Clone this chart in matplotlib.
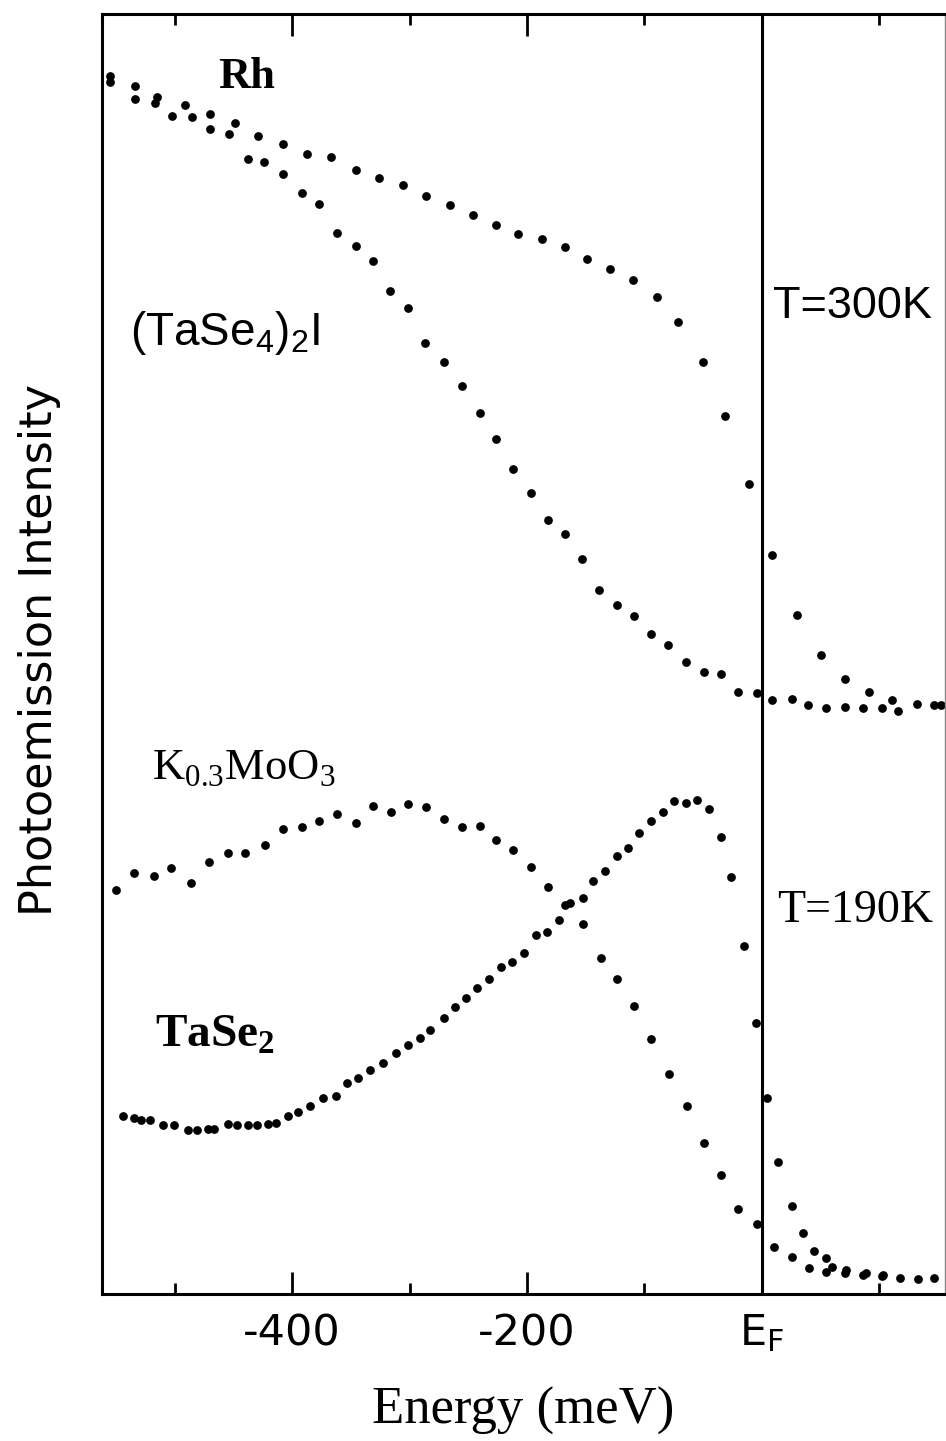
import numpy as np
import matplotlib
matplotlib.use("Agg")
from matplotlib import pyplot as plt
from matplotlib.ticker import FixedLocator

# energies in meV relative to E_F, intensity in arbitrary units (0..128)
rh_e = [-555, -534, -515, -491, -470, -449, -429, -408, -387, -367, -346, -326, -306, -286,
        -266, -246, -226, -208, -187, -168, -149, -129, -110, -89, -71, -50, -31, -11,
        9, 30, 50, 71, 91, 111, 132, 153]
rh_i = [121.8, 120.8, 119.7, 118.9, 118.0, 117.1, 115.8, 115.0, 114.0, 113.7, 112.4, 111.6,
        110.9, 109.8, 108.9, 107.9, 106.9, 106.0, 105.5, 104.7, 103.5, 102.5, 101.4, 99.7,
        97.2, 93.2, 87.8, 81.0, 73.9, 67.9, 63.9, 61.5, 60.2, 59.4, 59.0, 58.9]

tase4_e = [-555, -534, -517, -502, -485, -470, -454, -438, -424, -408, -392, -377, -362, -346,
           -331, -317, -301, -287, -271, -255, -240, -226, -212, -197, -182, -168, -153, -139,
           -123, -109, -94, -80, -65, -49, -35, -20, -4, 9, 26, 39, 55, 71, 86, 102, 116, 147]
tase4_i = [121.2, 119.5, 119.1, 117.8, 117.7, 116.5, 116.0, 113.5, 113.2, 112.0, 110.1, 109.0,
           106.1, 104.8, 103.3, 100.3, 98.6, 95.1, 93.2, 90.8, 88.1, 85.5, 82.5, 80.1, 77.4,
           76.0, 73.5, 70.4, 68.9, 67.8, 66.0, 64.9, 63.2, 62.2, 62.0, 60.2, 60.1, 59.4, 59.5,
           58.9, 58.6, 58.7, 58.6, 58.6, 58.3, 58.9]

kmo_e = [-550, -535, -518, -503, -486, -471, -455, -440, -423, -408, -392, -377, -362, -346,
         -331, -316, -301, -286, -271, -255, -240, -226, -212, -197, -182, -168, -152, -137,
         -123, -109, -94, -79, -64, -49, -35, -20, -4, 10, 26, 40, 55, 71, 86, 102, 118, 133, 147]
kmo_i = [40.4, 42.1, 41.8, 42.6, 41.1, 43.2, 44.1, 44.1, 44.9, 46.5, 46.7, 47.3, 48.0, 47.1,
         48.8, 48.2, 49.0, 48.7, 47.5, 46.7, 46.8, 45.4, 44.4, 42.7, 40.7, 38.9, 37.0, 33.6,
         31.5, 28.8, 25.5, 22.0, 18.8, 15.1, 11.9, 8.5, 7.0, 4.7, 3.7, 2.6, 2.2, 2.1, 1.9,
         1.8, 1.6, 1.5, 1.6]

tase2_e = [-544, -535, -529, -521, -510, -501, -489, -481, -472, -467, -455, -447, -438, -430,
           -421, -414, -404, -395, -385, -374, -363, -353, -344, -334, -323, -312, -301, -291,
           -283, -271, -261, -252, -243, -232, -222, -213, -203, -192, -183, -173, -163, -152,
           -144, -134, -123, -114, -105, -94, -84, -75, -65, -55, -45, -35, -26, -15, -5,
           4, 14, 26, 35, 44, 55, 60, 72, 89, 103]
tase2_i = [17.8, 17.6, 17.4, 17.4, 16.9, 16.9, 16.4, 16.4, 16.5, 16.5, 17.0, 16.9, 16.9, 16.9,
           17.0, 17.1, 17.8, 18.2, 18.8, 19.6, 19.8, 21.1, 21.6, 22.4, 23.1, 24.1, 24.9, 25.6,
           26.4, 27.6, 28.7, 29.6, 30.6, 31.5, 32.7, 33.2, 34.1, 35.9, 36.2, 37.4, 39.1, 39.6,
           41.3, 42.3, 43.8, 44.6, 46.1, 47.3, 48.2, 49.3, 49.1, 49.4, 48.5, 45.7, 41.7, 34.8,
           27.1, 19.6, 13.2, 8.8, 6.1, 4.3, 3.6, 2.7, 2.4, 2.1, 1.9]

major_ticks = [-400, -200, 0]
major_labels = ["-400", "-200", "$\\mathregular{E_F}$"]
minor_ticks = [-500, -300, -100, 100]

sans = ["DejaVu Sans"]
serif = ["Liberation Serif", "DejaVu Serif"]

fig = plt.figure(figsize=(9.46, 14.41), dpi=100)
ax = fig.add_axes([102 / 946, 1 - 1294 / 1441, 843 / 946, 1280 / 1441])

for e, i in [(rh_e, rh_i), (tase4_e, tase4_i), (kmo_e, kmo_i), (tase2_e, tase2_i)]:
    ax.plot(e, i, "o", color="black", ms=6.3, mew=0)

ax.axvline(0, color="black", lw=2.2)

ax.set_xlim(-562, 156)
ax.set_ylim(0, 128)
ax.set_yticks([])

ax.xaxis.set_major_locator(FixedLocator(major_ticks))
ax.xaxis.set_minor_locator(FixedLocator(minor_ticks))
ax.set_xticklabels(major_labels, family=sans, fontsize=31)
ax.tick_params(axis="x", which="both", direction="in", top=True, width=2, pad=13)
ax.tick_params(axis="x", which="major", length=16)
ax.tick_params(axis="x", which="minor", length=8)
for s in ax.spines.values():
    s.set_linewidth(2.2)
ax.spines["right"].set_linewidth(1.0)
ax.spines["right"].set_color("#888888")

ax.set_xlabel("Energy (meV)", family=serif, fontsize=38, labelpad=24)
fig.text(40 / 946, 1 - 650 / 1441, "Photoemission Intensity", family=sans,
         fontsize=32, rotation=90, ha="center", va="center")

ax.text(-463, 120.6, "Rh", family=serif, weight="bold", fontsize=32, va="baseline")
ax.text(-538, 94.9, "(TaSe$_\\mathregular{4}$)$_\\mathregular{2}$I", family="Liberation Sans",
        fontsize=33, va="baseline")
ax.text(9.4, 97.6, "T=300K", family="Liberation Sans", fontsize=32.5, va="baseline")
ax.text(-519, 51.4, "K$_\\mathregular{0.3}$MoO$_\\mathregular{3}$", family=serif,
        fontsize=32, va="baseline")
ax.text(12.8, 37.2, "T=190K", family=serif, fontsize=33, va="baseline")
ax.text(-517, 24.7, "TaSe$_\\mathregular{2}$", family=serif, weight="bold",
        fontsize=34, va="baseline")

plt.savefig("out.png", dpi=100)
